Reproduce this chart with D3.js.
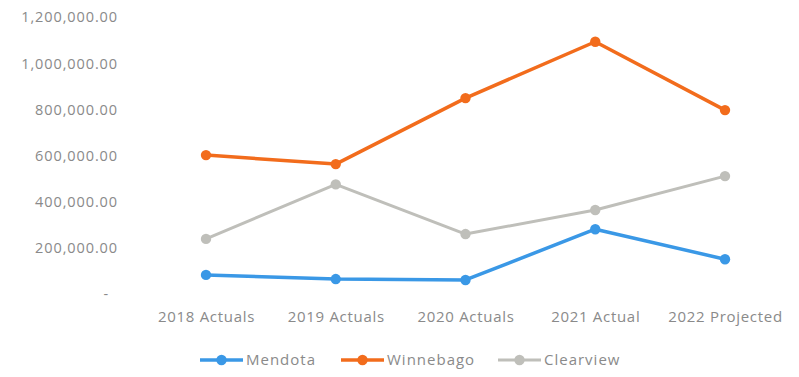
<!DOCTYPE html>
<html>
<head>
<meta charset="utf-8">
<script src="https://cdn.jsdelivr.net/npm/d3@7"></script>
<style>
  html, body { margin: 0; padding: 0; background: #fff; }
  svg { display: block; }
  text { font-family: "Open Sans", Lato, sans-serif; fill: #8a8a8a; letter-spacing: 0.9px; }
</style>
</head>
<body>
<svg id="chart" width="799" height="377"></svg>
<script>
// Budget figures by year for each location
const categories = ["2018 Actuals", "2019 Actuals", "2020 Actuals", "2021 Actual", "2022 Projected"];
const mendota    = [84000, 66000, 62000, 282000, 152000];
const winnebago  = [603000, 564000, 850000, 1094000, 798000];
const clearview  = [240000, 476000, 261000, 365000, 512000];
const yTicks     = [0, 200000, 400000, 600000, 800000, 1000000, 1200000];

const seriesList = [
  { name: "Mendota",   values: mendota,   color: "#3a98e6", width: 3.5 },
  { name: "Winnebago", values: winnebago, color: "#f26c1c", width: 3.5 },
  { name: "Clearview", values: clearview, color: "#bfbfba", width: 3 }
];

const svg = d3.select("#chart");

const x = d3.scalePoint().domain(categories).range([206, 725]);
const y = d3.scaleLinear().domain([0, 1200000]).range([294.3, 17.3]);

const fmt = d3.format(",.2f");

// Y axis: labels only
const yAxis = svg.append("g")
  .attr("transform", "translate(118,0)")
  .call(d3.axisLeft(y).tickValues(yTicks).tickSize(0).tickPadding(0)
    .tickFormat(d => d === 0 ? "-" : fmt(d)));
yAxis.select(".domain").remove();
yAxis.selectAll("text").style("font-size", "14.5px").attr("font-family", null).attr("fill", null);
yAxis.selectAll(".tick").filter(d => d === 0).select("text").attr("dx", "-9");

// X axis: labels only
const xAxis = svg.append("g")
  .attr("transform", "translate(0,311)")
  .call(d3.axisBottom(x).tickSize(0).tickPadding(0));
xAxis.select(".domain").remove();
xAxis.selectAll("text").style("font-size", "15px").attr("font-family", null).attr("fill", null)
  .style("letter-spacing", "0.7px");

const line = d3.line().x((d, i) => x(categories[i])).y(d => y(d));

// Draw grey first so colored lines sit above it
const drawOrder = [seriesList[2], seriesList[0], seriesList[1]];
drawOrder.forEach(s => {
  const g = svg.append("g");
  g.append("path")
    .datum(s.values)
    .attr("d", line)
    .attr("fill", "none")
    .attr("stroke", s.color)
    .attr("stroke-width", s.width)
    .attr("stroke-linejoin", "round");
  g.selectAll("circle")
    .data(s.values)
    .join("circle")
    .attr("cx", (d, i) => x(categories[i]))
    .attr("cy", d => y(d))
    .attr("r", 5.2)
    .attr("fill", s.color);
});

// Legend
const legendX = [200, 341, 498];
const legend = svg.append("g").attr("transform", "translate(0,360)");
seriesList.forEach((s, i) => {
  const g = legend.append("g").attr("transform", `translate(${legendX[i]},0)`);
  g.append("line").attr("x1", 0).attr("x2", 43).attr("y1", 0).attr("y2", 0)
    .attr("stroke", s.color).attr("stroke-width", s.width);
  g.append("circle").attr("cx", 21.5).attr("cy", 0).attr("r", 5.2).attr("fill", s.color);
  g.append("text").attr("x", 46).attr("y", 0).attr("dy", "0.35em")
    .style("font-size", "15px").style("letter-spacing", "1px").text(s.name);
});
</script>
</body>
</html>
